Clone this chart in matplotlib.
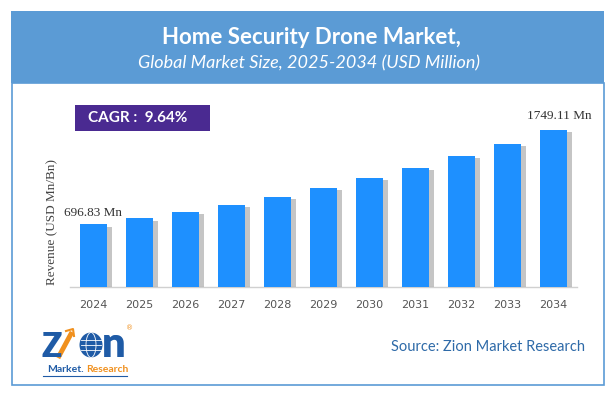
import matplotlib
matplotlib.use("Agg")
import matplotlib.pyplot as plt
from matplotlib.patches import Rectangle, Ellipse
import matplotlib.patheffects as pe

years = ["2024", "2025", "2026", "2027", "2028", "2029", "2030", "2031", "2032", "2033", "2034"]
revenue = [696.83, 764.0, 837.7, 918.4, 1007.0, 1104.1, 1210.5, 1327.2, 1455.2, 1595.5, 1749.11]
first_label = "696.83 Mn"
last_label = "1749.11 Mn"
title = "Home Security Drone Market,"
subtitle = "Global Market Size, 2025-2034 (USD Million)"
cagr_text = "CAGR :  9.64%"
y_label = "Revenue (USD Mn/Bn)"
source_text = "Source: Zion Market Research"

W, H = 615, 398
fig = plt.figure(figsize=(W / 100, H / 100), dpi=100)
fig.patch.set_facecolor("white")

def fx(x):
    return x / W

def fy(y):
    return 1 - y / H

# outer border
border = Rectangle((fx(12), fy(385)), fx(604) - fx(12), fy(83) - fy(385),
                   transform=fig.transFigure, facecolor="white",
                   edgecolor="#5b9bd5", linewidth=1.2, zorder=0)
fig.add_artist(border)
# header band
header = Rectangle((fx(11), fy(83)), fx(604) - fx(11), fy(11) - fy(83),
                   transform=fig.transFigure, facecolor="#5b9bd5",
                   edgecolor="none", zorder=1)
fig.add_artist(header)

fig.text(fx(311), fy(38), title, ha="center", va="center", color="white",
         fontsize=16, fontweight="bold", family="Lato")
fig.text(fx(309), fy(63), subtitle, ha="center", va="center", color="white",
         fontsize=13, style="italic", family="Lato")

# CAGR box
cagr = Rectangle((fx(75), fy(131)), fx(210) - fx(75), fy(105) - fy(131),
                 transform=fig.transFigure, facecolor="#4a2a91",
                 edgecolor="none", zorder=2)
fig.add_artist(cagr)
fig.text(fx(138), fy(118.5), cagr_text, ha="center", va="center", color="white",
         fontsize=11, fontweight="bold", family="Lato", zorder=3)

# axes
ax_left, ax_right = 70, 577
ax_base, ax_top = 287, 100
ax = fig.add_axes([fx(ax_left), fy(ax_base), fx(ax_right) - fx(ax_left), fy(ax_top) - fy(ax_base)])
ax.set_facecolor("none")
x = list(range(len(years)))
bars = ax.bar(x, revenue, width=0.59, color="#1e90ff", zorder=3)
for b in bars:
    b.set_path_effects([pe.SimplePatchShadow(offset=(3.5, -1.5), shadow_rgbFace="#808080", alpha=0.45),
                        pe.Normal()])
ax.set_xlim(-0.51, len(years) - 0.49)
top_val = revenue[-1] * (ax_base - ax_top) / (ax_base - 130)
ax.set_ylim(0, top_val)
ax.set_xticks(x)
ax.set_xticklabels(years, fontsize=8, color="#555555", family="DejaVu Sans")
ax.tick_params(axis="x", length=0, pad=9)
ax.set_yticks([])
for s in ["top", "right", "left"]:
    ax.spines[s].set_visible(False)
ax.spines["bottom"].set_color("#d0d0d0")
ax.spines["bottom"].set_linewidth(1.0)

ax.annotate(first_label, (x[0], revenue[0]), xytext=(0, 4), textcoords="offset points",
            ha="center", va="bottom", fontsize=9.5, family="Liberation Serif", color="#333333")
ax.annotate(last_label, (x[-1], revenue[-1]), xytext=(4, 6), textcoords="offset points",
            ha="center", va="bottom", fontsize=9.5, family="Liberation Serif", color="#333333")

fig.text(fx(52), fy(222), y_label, rotation=90, ha="center", va="center",
         fontsize=9.5, family="Liberation Serif", color="#444444")

# source
fig.text(fx(585), fy(347), source_text, ha="right", va="center",
         fontsize=10.5, family="Lato", color="#2e6aa8")

# logo
blue = "#1f5ba6"
orange = "#f0901e"
fig.text(fx(42), fy(357), "Z", ha="left", va="baseline", fontsize=24, fontweight="heavy",
         family="Lato", color=blue)
fig.add_artist(plt.Line2D([fx(58), fx(72)], [fy(358), fy(332)], transform=fig.transFigure,
                          color=orange, linewidth=3.5, solid_capstyle="butt"))
fig.add_artist(plt.Line2D([fx(66), fx(73), fx(74)], [fy(331), fy(329), fy(336)],
                          transform=fig.transFigure, color=orange, linewidth=1.5))
globe = Ellipse((fx(91), fy(345)), 23 / W, 25 / H, transform=fig.transFigure,
                facecolor=blue, edgecolor="none")
fig.add_artist(globe)
for dy in (-5, 0, 5):
    fig.add_artist(plt.Line2D([fx(81), fx(101)], [fy(345 + dy), fy(345 + dy)],
                              transform=fig.transFigure, color="white", linewidth=0.6))
glob2 = Ellipse((fx(91), fy(345)), 10 / W, 25 / H, transform=fig.transFigure,
                facecolor="none", edgecolor="white", linewidth=0.6)
fig.add_artist(glob2)
fig.text(fx(102), fy(357), "n", ha="left", va="baseline", fontsize=30, fontweight="heavy",
         family="Lato", color=blue)
fig.text(fx(130), fy(328), "®", ha="center", va="center", fontsize=5, color=orange)
fig.text(fx(84), fy(370), "Market.", ha="right", va="center", fontsize=7.5, fontweight="bold",
         family="Lato", color=blue)
fig.text(fx(86), fy(370), "Research", ha="left", va="center", fontsize=7.5, fontweight="bold",
         family="Lato", color=orange)
fig.add_artist(plt.Line2D([fx(43), fx(127)], [fy(376), fy(376)], transform=fig.transFigure,
                          color=blue, linewidth=0.8))

fig.savefig("out.png", dpi=100)
